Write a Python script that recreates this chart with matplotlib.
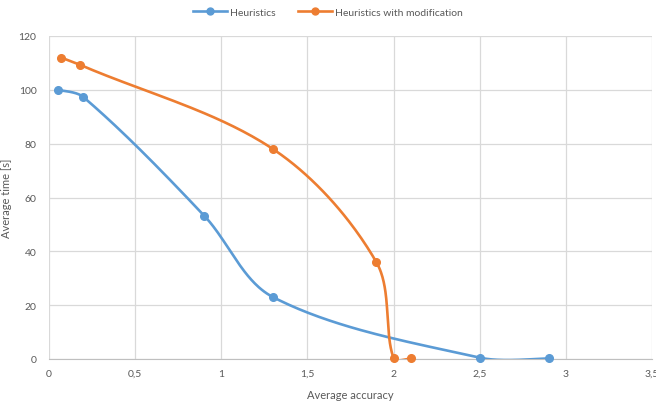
import numpy as np
import matplotlib
matplotlib.use("Agg")
import matplotlib.pyplot as plt
from matplotlib.lines import Line2D

plt.rcParams['font.family'] = ['Lato', 'DejaVu Sans']

series_names = ["Heuristics", "Heuristics with modification"]
heur_x = [0.05, 0.2, 0.9, 1.3, 2.5, 2.9]
heur_y = [100.0, 97.3, 53.3, 23.0, 0.5, 0.2]
mod_x = [0.07, 0.18, 1.3, 1.9, 2.0, 2.1]
mod_y = [112.0, 109.3, 78.0, 36.0, 0.3, 0.2]
colors = ["#5b9bd5", "#ed7d31"]
x_ticks = [0, 0.5, 1, 1.5, 2, 2.5, 3, 3.5]
x_labels = ["0", "0,5", "1", "1,5", "2", "2,5", "3", "3,5"]
y_ticks = [0, 20, 40, 60, 80, 100, 120]

fig = plt.figure(figsize=(6.56, 4.02), dpi=100)
ax = fig.add_axes([49/656, 42/402, 603/656, 323/402])
ax.set_xlim(0, 3.5)
ax.set_ylim(0, 120)

# pixel scale factors so smoothing is done in screen space (like Excel)
sx = 603/3.5
sy = 323/120


def smooth(xs, ys, n=60, k=1/3):
    P = np.column_stack([np.array(xs)*sx, np.array(ys)*sy])
    out = []
    m = len(P)
    for i in range(m-1):
        p0 = P[i-1] if i > 0 else P[i]
        p1 = P[i]
        p2 = P[i+1]
        p3 = P[i+2] if i+2 < m else P[i+1]
        d01 = np.hypot(*(p1-p0))
        d12 = np.hypot(*(p2-p1))
        d23 = np.hypot(*(p3-p2))
        f1 = k*d12/(d01+d12) if d01 > 0 else 0.0
        f2 = k*d12/(d12+d23) if d23 > 0 else 0.0
        if i == 0:
            b1 = p1 + (p2-p1)/3*0.5
        else:
            b1 = p1 + (p2-p0)*f1
        if i+2 >= m:
            b2 = p2 - (p2-p1)/3*0.5
        else:
            b2 = p2 - (p3-p1)*f2
        t = np.linspace(0, 1, n)[:, None]
        seg = ((1-t)**3)*p1 + 3*((1-t)**2)*t*b1 + 3*(1-t)*t**2*b2 + t**3*p2
        out.append(seg if i == 0 else seg[1:])
    out = np.vstack(out)
    return out[:, 0]/sx, out[:, 1]/sy

for xs, ys, c in [(heur_x, heur_y, colors[0]), (mod_x, mod_y, colors[1])]:
    cx, cy = smooth(xs, ys)
    ax.plot(cx, cy, color=c, lw=1.9, solid_capstyle='round', zorder=3)
    ax.plot(xs, ys, 'o', color=c, ms=5.5, clip_on=False, zorder=4)

ax.set_xticks(x_ticks)
ax.set_xticklabels(x_labels)
ax.set_yticks(y_ticks)
ax.grid(True, color="#d9d9d9", lw=0.9)
ax.set_axisbelow(True)
for s in ['top', 'right', 'left']:
    ax.spines[s].set_visible(False)
ax.spines['bottom'].set_color("#bfbfbf")
ax.tick_params(axis='both', length=0, colors="#595959", labelsize=7.5)
ax.tick_params(axis='x', pad=7)
ax.tick_params(axis='y', pad=9)
ax.set_xlabel("Average accuracy", color="#595959", fontsize=8, labelpad=8)
ax.set_ylabel("Average time [s]", color="#595959", fontsize=8, labelpad=5)

handles = [Line2D([0], [0], color=c, lw=1.9, marker='o', ms=5) for c in colors]
fig.legend(handles, series_names, loc='center', bbox_to_anchor=(0.5, 1-13/402),
           ncol=2, frameon=False, fontsize=7.5, labelcolor="#595959",
           handlelength=3.2, handletextpad=0.3, columnspacing=2.2)

fig.savefig("out.png", dpi=100)
